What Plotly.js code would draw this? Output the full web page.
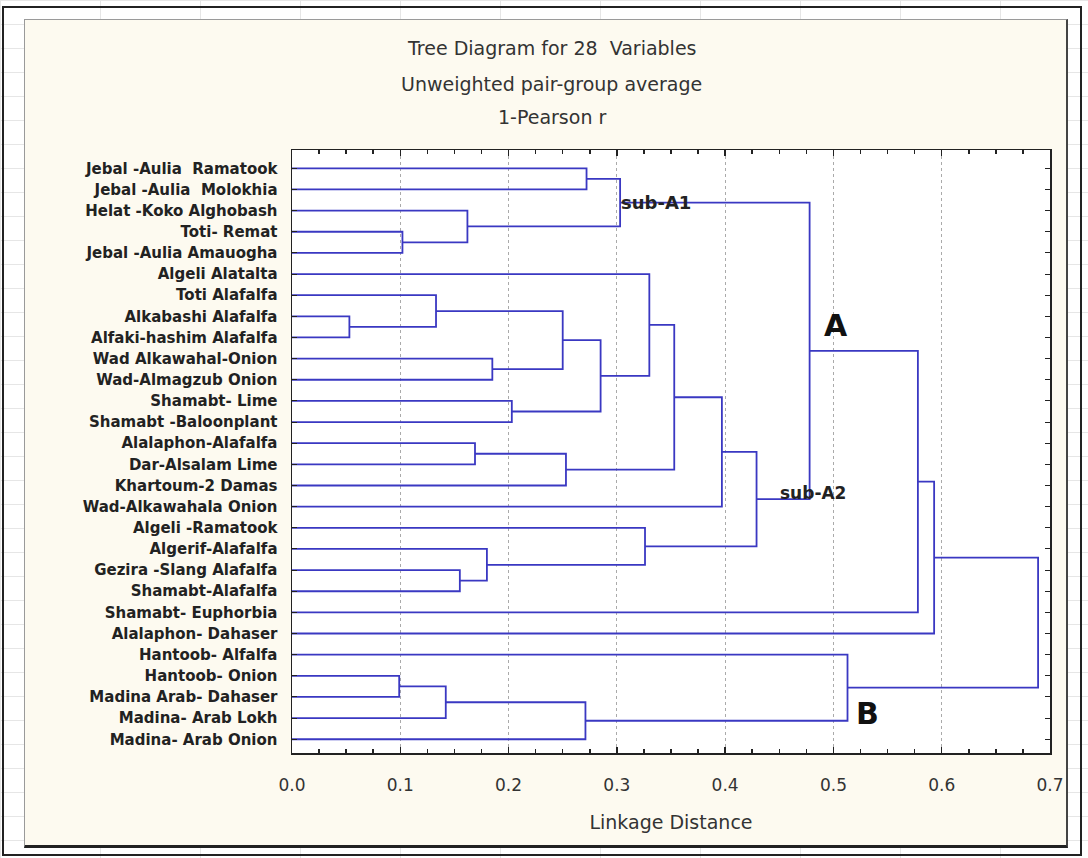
<!DOCTYPE html>
<html><head><meta charset="utf-8">
<script src="https://cdn.plot.ly/plotly-3.0.1.min.js"></script>
<style>
body{margin:0;background:#fff;}
#wrap{position:relative;width:1088px;height:858px;overflow:hidden;background:#fff;
 background-image:linear-gradient(#e6e6e6 1px,transparent 1px),linear-gradient(90deg,#e6e6e6 1px,transparent 1px);
 background-size:100px 24px;}
#frame{position:absolute;left:2px;top:6px;width:1080px;height:850px;border:2px solid #222;box-sizing:border-box;}
#panel{position:absolute;left:24px;top:19px;width:1044px;height:829px;background:#fdfaf0;border:1px solid #9a9a9a;border-bottom:3px solid #222;border-right:2px solid #444;box-sizing:border-box;}
#chart{position:absolute;left:0;top:0;width:1088px;height:858px;}
</style></head>
<body>
<div id="wrap"><div id="frame"></div><div id="panel"></div><div id="chart"></div></div>
<script>
// Leaves in dendrogram order (top to bottom)
const leafLabels = [
  "Jebal -Aulia  Ramatook",
  "Jebal -Aulia  Molokhia",
  "Helat -Koko Alghobash",
  "Toti- Remat",
  "Jebal -Aulia Amauogha",
  "Algeli Alatalta",
  "Toti Alafalfa",
  "Alkabashi Alafalfa",
  "Alfaki-hashim Alafalfa",
  "Wad Alkawahal-Onion",
  "Wad-Almagzub Onion",
  "Shamabt- Lime",
  "Shamabt -Baloonplant",
  "Alalaphon-Alafalfa",
  "Dar-Alsalam Lime",
  "Khartoum-2 Damas",
  "Wad-Alkawahala Onion",
  "Algeli -Ramatook",
  "Algerif-Alafalfa",
  "Gezira -Slang Alafalfa",
  "Shamabt-Alafalfa",
  "Shamabt- Euphorbia",
  "Alalaphon- Dahaser",
  "Hantoob- Alfalfa",
  "Hantoob- Onion",
  "Madina Arab- Dahaser",
  "Madina- Arab Lokh",
  "Madina- Arab Onion"
];
// Linkage: merge k creates cluster id 28+k from clusters mergeLeft[k] and mergeRight[k]
const mergeLeft   = [7, 3, 24, 6, 19, 2, 13, 18, 9, 11, 30, 38, 0, 31, 34, 41, 40, 17, 5, 46, 47, 48, 44, 50, 51, 23, 52];
const mergeRight  = [8, 4, 25, 28, 20, 29, 14, 32, 10, 12, 26, 27, 1, 36, 15, 37, 33, 35, 43, 42, 16, 45, 49, 21, 22, 39, 53];
const mergeHeight = [0.053, 0.102, 0.099, 0.133, 0.155, 0.162, 0.169, 0.180, 0.185, 0.203, 0.142, 0.271, 0.272, 0.250, 0.253, 0.285, 0.303, 0.326, 0.330, 0.353, 0.397, 0.429, 0.478, 0.578, 0.593, 0.513, 0.689];

const xTicks = [0, 0.1, 0.2, 0.3, 0.4, 0.5, 0.6, 0.7];
const titleLines = ["Tree Diagram for 28  Variables", "Unweighted pair-group average", "1-Pearson r"];
const xTitle = "Linkage Distance";

// build dendrogram paths
const posY = leafLabels.map((_, i) => i);
const posX = leafLabels.map(() => 0);
const xs = [], ys = [];
for (let k = 0; k < mergeHeight.length; k++) {
  const a = mergeLeft[k], b = mergeRight[k], h = mergeHeight[k];
  xs.push(posX[a], h, h, posX[b], null);
  ys.push(posY[a], posY[a], posY[b], posY[b], null);
  posX.push(h);
  posY.push((posY[a] + posY[b]) / 2);
}

const trace = {
  type: 'scatter', mode: 'lines', x: xs, y: ys,
  line: {color: '#3a38c2', width: 1.8},
  hoverinfo: 'skip', showlegend: false, connectgaps: false
};

const FONT = 'DejaVu Sans, Verdana, sans-serif';
const titleY = [1.169, 1.109, 1.055];
const annotations = titleLines.map((t, i) => ({
  text: t, xref: 'paper', yref: 'paper', x: 0.343, y: titleY[i],
  xanchor: 'center', yanchor: 'middle', showarrow: false,
  font: {family: FONT, size: 19, color: '#333'}
}));
annotations.push(
  {text: '<b>sub-A1</b>', x: 0.302, y: 1.62, xanchor: 'left', yanchor: 'middle', showarrow: false,
   font: {family: FONT, size: 18, color: '#222'}},
  {text: '<b>A</b>', x: 0.502, y: 7.45, xanchor: 'center', yanchor: 'middle', showarrow: false,
   font: {family: FONT, size: 30, color: '#111'}},
  {text: '<b>sub-A2</b>', x: 0.449, y: 15.35, xanchor: 'left', yanchor: 'middle', showarrow: false,
   font: {family: FONT, size: 17, color: '#222'}},
  {text: '<b>B</b>', x: 0.531, y: 25.8, xanchor: 'center', yanchor: 'middle', showarrow: false,
   font: {family: FONT, size: 30, color: '#111'}}
);

const layout = {
  width: 1088, height: 858,
  margin: {l: 292, r: 38, t: 150, b: 105, pad: 0},
  paper_bgcolor: 'rgba(0,0,0,0)', plot_bgcolor: '#ffffff',
  showlegend: false,
  xaxis: {
    range: [0, 0.7], tickvals: xTicks, tickformat: '.1f',
    ticks: 'inside', ticklen: 6, tickwidth: 1.5, tickcolor: '#222',
    showline: true, linecolor: '#222', linewidth: 1.5, mirror: 'allticks',
    showgrid: true, gridcolor: '#aaaaaa', griddash: 'dot', gridwidth: 1, zeroline: false,
    minor: {ticks: 'inside', ticklen: 4, dtick: 0.025, tick0: 0, tickcolor: '#222', showgrid: false},
    tickfont: {family: FONT, size: 17, color: '#333'},
    ticklabelstandoff: 16,
    title: {text: xTitle, font: {family: FONT, size: 19, color: '#333'}, standoff: 22},
    fixedrange: true
  },
  yaxis: {
    range: [27.65, -0.865], tickvals: leafLabels.map((_, i) => i), ticktext: leafLabels.map(s => '<b>' + s + '</b>'),
    ticks: 'inside', ticklen: 5, tickcolor: '#222',
    showline: true, linecolor: '#222', linewidth: 1.5, mirror: 'allticks',
    showgrid: false, zeroline: false,
    tickfont: {family: FONT, size: 15, color: '#222'},
    ticklabelstandoff: 10, fixedrange: true
  },
  annotations: annotations
};

Plotly.newPlot('chart', [trace], layout, {displayModeBar: false, staticPlot: true});
</script>
</body></html>
